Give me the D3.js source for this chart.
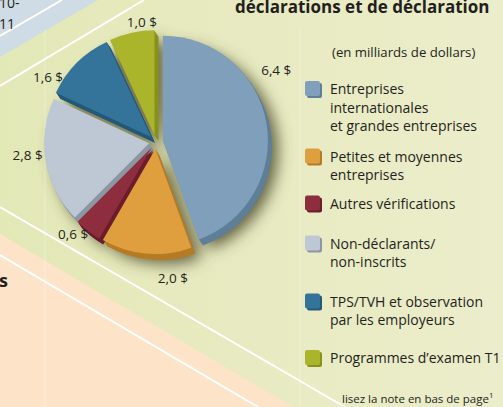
<!DOCTYPE html>
<html lang="fr">
<head>
<meta charset="utf-8">
<title>Pie</title>
<script src="https://d3js.org/d3.v7.min.js"></script>
<style>
  body { margin: 0; background: #e8ebc3; }
  svg { display: block; }
  .txt { font-family: "Open Sans", sans-serif; fill: #231f20; }
  .title { font-weight: bold; font-size: 17px; }
  .pieLabel { font-size: 13.5px; }
  .legendText { font-size: 14px; }
  .note { font-size: 11.5px; }
</style>
</head>
<body>
<script>
var w = 503, h = 407;

// Données
var categories = [
  ["Entreprises", "internationales", "et grandes entreprises"],
  ["Petites et moyennes", "entreprises"],
  ["Autres vérifications"],
  ["Non-déclarants/", "non-inscrits"],
  ["TPS/TVH et observation", "par les employeurs"],
  ["Programmes d’examen T1"]
];
var values = [6.4, 2.0, 0.6, 2.8, 1.6, 1.0];
var valueLabels = ["6,4 $", "2,0 $", "0,6 $", "2,8 $", "1,6 $", "1,0 $"];

// Couleurs (face / côté)
var colors = ["#7f9fba", "#e09f3f", "#8e2d3e", "#bec8d4", "#34739a", "#aab52b"];
var sideColors = ["#5f7f99", "#b67b26", "#6b1d2b", "#8d97a2", "#245a77", "#87911c"];

// Mise en page
var cx = 156, cy = 142, radius = 105, explode = 7;
var depth = 6, ex = 4, ey = 6;
var labelFrac = [0.37, 0.26, 0.8, 0.56, 0.15, 0.73];
var labelRad = [140, 138, 124, 129, 126, 120];
var legendX = 305, legendTextX = 330, lineH = 18.5;
var legendY = [94, 161.5, 208.5, 248.5, 306.5, 363];

var svg = d3.select("body").append("svg")
  .attr("width", w)
  .attr("height", h);

var defs = svg.append("defs");
var grad = defs.append("linearGradient").attr("id", "bg")
  .attr("x1", 0).attr("x2", 1).attr("y1", 0).attr("y2", 0);
grad.append("stop").attr("offset", 0).attr("stop-color", "#e3e8b7");
grad.append("stop").attr("offset", 1).attr("stop-color", "#ecedcb");

var blur = defs.append("filter").attr("id", "shadow")
  .attr("x", -0.3).attr("y", -0.3).attr("width", 1.6).attr("height", 1.6);
blur.append("feGaussianBlur").attr("stdDeviation", 7.5);

// Fond
svg.append("rect").attr("width", w).attr("height", h).attr("fill", "url(#bg)");
svg.append("path").attr("d", "M0,0 L98,0 L0,57 Z").attr("fill", "#cfdbe5");
svg.append("path").attr("d", "M0,234 L293,407 L0,407 Z").attr("fill", "#fde4c8");

// lignes verticales pâles
[45, 300].forEach(function(x) {
  svg.append("line")
    .attr("x1", x).attr("x2", x).attr("y1", 30).attr("y2", h)
    .attr("stroke", "#ffffff").attr("stroke-opacity", 0.35).attr("stroke-width", 1);
});

// lignes blanches diagonales
[[0, 36, 62, 0], [0, 86, 144, 0], [0, 207, 345, 407], [0, 255, 258, 407]].forEach(function(l) {
  svg.append("line")
    .attr("x1", l[0]).attr("y1", l[1]).attr("x2", l[2]).attr("y2", l[3])
    .attr("stroke", "#ffffff").attr("stroke-width", 2);
});

// Textes coupés du document
svg.append("text").attr("class", "txt").attr("x", -1).attr("y", 8)
  .style("font-size", "14px").text("10-");
svg.append("text").attr("class", "txt").attr("x", -1).attr("y", 29)
  .style("font-size", "14px").text("11");
svg.append("text").attr("class", "txt title").attr("x", -1).attr("y", 287)
  .style("font-size", "18px").text("s");
svg.append("text").attr("class", "txt title").attr("x", 235).attr("y", 13)
  .text("déclarations et de déclaration");

// Camembert
var pie = d3.pie().sort(null).value(function(d) { return d; });
var arcs = pie(values);
var arc = d3.arc().innerRadius(0).outerRadius(radius);

function off(d) {
  var a = (d.startAngle + d.endAngle) / 2;
  return [explode * Math.sin(a), -explode * Math.cos(a)];
}

var g = svg.append("g").attr("transform", "translate(" + cx + "," + cy + ")");

// ombre
var sh = g.append("g").attr("filter", "url(#shadow)")
  .attr("transform", "translate(10,10)");
sh.selectAll("path").data(arcs).enter().append("path")
  .attr("d", arc)
  .attr("transform", function(d) { var o = off(d); return "translate(" + o[0] + "," + o[1] + ")"; })
  .attr("fill", "#4d4a2c")
  .attr("fill-opacity", 0.85);

// côtés (extrusion)
arcs.forEach(function(d, i) {
  var o = off(d);
  for (var k = depth; k >= 1; k--) {
    g.append("path")
      .attr("d", arc(d))
      .attr("transform", "translate(" + (o[0] + k * ex / depth) + "," + (o[1] + k * ey / depth) + ")")
      .attr("fill", sideColors[i]);
  }
});

// faces
g.selectAll("path.top").data(arcs).enter().append("path")
  .attr("class", "top")
  .attr("d", arc)
  .attr("transform", function(d) { var o = off(d); return "translate(" + o[0] + "," + o[1] + ")"; })
  .attr("fill", function(d, i) { return colors[i]; });

// étiquettes de valeurs
g.selectAll("text.pieLabel").data(arcs).enter().append("text")
  .attr("class", "txt pieLabel")
  .attr("text-anchor", "middle")
  .attr("x", function(d, i) {
    var a = d.startAngle + (d.endAngle - d.startAngle) * labelFrac[i];
    return labelRad[i] * Math.sin(a);
  })
  .attr("y", function(d, i) {
    var a = d.startAngle + (d.endAngle - d.startAngle) * labelFrac[i];
    return -labelRad[i] * Math.cos(a) + 4.5;
  })
  .text(function(d, i) { return valueLabels[i]; });

// Légende
svg.append("text").attr("class", "txt legendText").attr("x", 332).attr("y", 57)
  .style("font-size", "13.2px")
  .text("(en milliards de dollars)");

var leg = svg.selectAll("g.leg").data(categories).enter().append("g")
  .attr("class", "leg")
  .attr("transform", function(d, i) { return "translate(0," + legendY[i] + ")"; });

leg.append("rect")
  .attr("x", legendX + 2).attr("y", -11)
  .attr("width", 15).attr("height", 15).attr("rx", 2)
  .attr("fill", function(d, i) { return sideColors[i]; });
leg.append("rect")
  .attr("x", legendX).attr("y", -13)
  .attr("width", 15).attr("height", 15).attr("rx", 2)
  .attr("fill", function(d, i) { return colors[i]; });

leg.each(function(lines) {
  var t = d3.select(this).append("text").attr("class", "txt legendText");
  lines.forEach(function(s, j) {
    t.append("tspan").attr("x", legendTextX).attr("y", j * lineH).text(s);
  });
});

// Note
var note = svg.append("text").attr("class", "txt note").attr("x", 342).attr("y", 403);
note.append("tspan").text("lisez la note en bas de page");
note.append("tspan").attr("dy", -5).style("font-size", "8px").text("1");
</script>
</body>
</html>
